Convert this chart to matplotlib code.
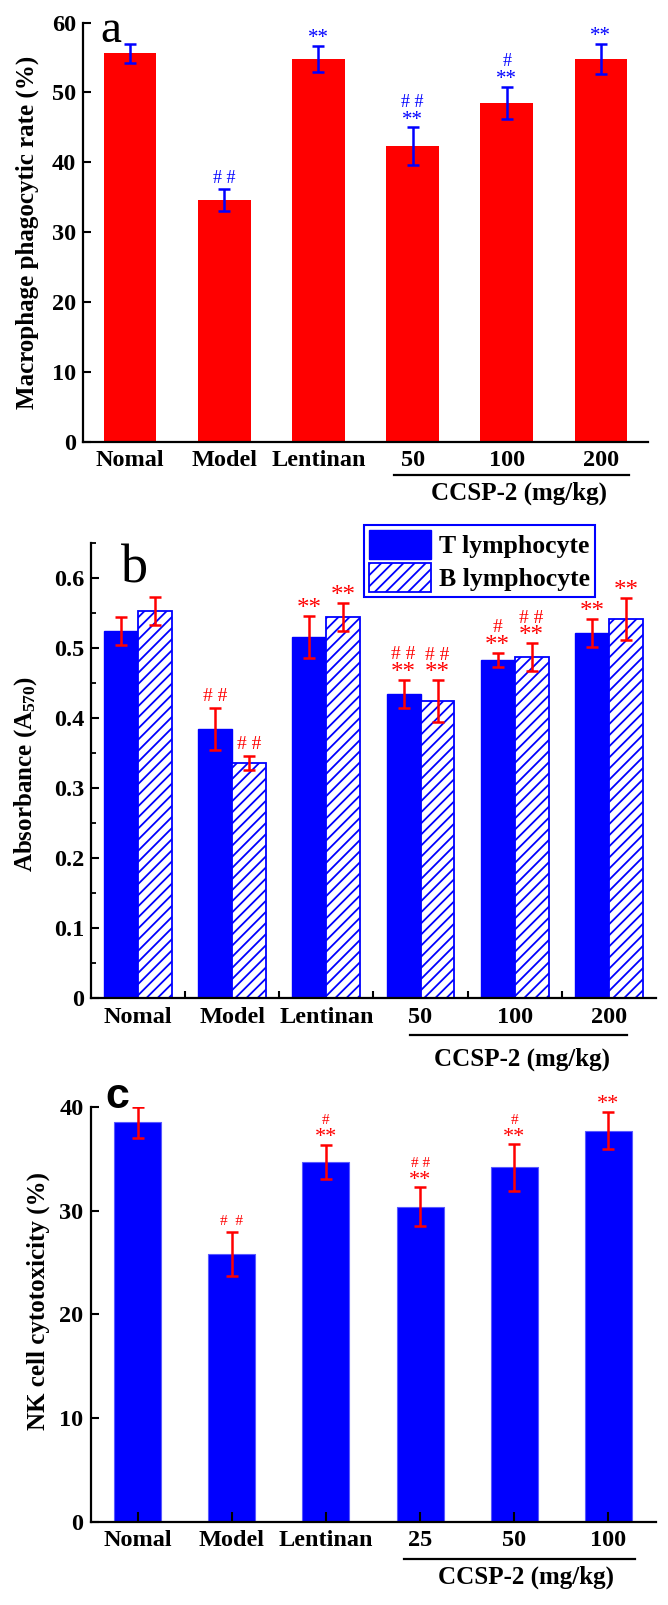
import numpy as np
import matplotlib.pyplot as plt
from matplotlib.patches import Patch
from matplotlib.ticker import FuncFormatter, MultipleLocator

plt.rcParams['font.family'] = ['Liberation Serif', 'DejaVu Serif']
plt.rcParams['font.weight'] = 'bold'
plt.rcParams['axes.labelweight'] = 'bold'
plt.rcParams['mathtext.fontset'] = 'custom'
plt.rcParams['mathtext.rm'] = 'Liberation Serif:bold'
plt.rcParams['mathtext.it'] = 'Liberation Serif:bold'
plt.rcParams['mathtext.bf'] = 'Liberation Serif:bold'
plt.rcParams['hatch.linewidth'] = 1.3

RED = '#ff0000'
BLUE = '#0000ff'

# panel a: macrophage phagocytic rate
labels_a = ['Nomal', 'Model', 'Lentinan', '50', '100', '200']
rate_a = [55.6, 34.6, 54.8, 42.3, 48.5, 54.8]
err_a = [1.4, 1.55, 1.9, 2.7, 2.35, 2.15]
stars_a = ['', '', '**', '**', '**', '**']
hashes_a = ['', '# #', '', '# #', '#', '']

# panel b: lymphocyte proliferation
labels_b = ['Nomal', 'Model', 'Lentinan', '50', '100', '200']
t_lym = [0.524, 0.385, 0.516, 0.435, 0.483, 0.522]
t_err = [0.02, 0.03, 0.03, 0.02, 0.01, 0.02]
b_lym = [0.553, 0.336, 0.544, 0.424, 0.487, 0.542]
b_err = [0.02, 0.01, 0.02, 0.03, 0.02, 0.03]
stars_t = ['', '', '**', '**', '**', '**']
hashes_t = ['', '# #', '', '# #', '#', '']
stars_b = ['', '', '**', '**', '**', '**']
hashes_b = ['', '# #', '', '# #', '# #', '']

# panel c: NK cell cytotoxicity
labels_c = ['Nomal', 'Model', 'Lentinan', '25', '50', '100']
nk_c = [38.55, 25.85, 34.75, 30.4, 34.2, 37.75]
err_c = [1.5, 2.1, 1.65, 1.9, 2.25, 1.8]
stars_c = ['', '', '**', '**', '**', '**']
hashes_c = ['', '#  #', '#', '# #', '#', '']


def style(ax, labels, ymax):
    for s in ['top', 'right']:
        ax.spines[s].set_visible(False)
    for s in ['left', 'bottom']:
        ax.spines[s].set_linewidth(1.6)
    ax.set_xlim(-0.5, 5.5)
    ax.set_ylim(0, ymax)
    ax.tick_params(axis='y', direction='in', length=6, width=1.5,
                   labelsize=17.5, pad=5)
    ax.set_xticks(range(len(labels)))
    ax.set_xticklabels(labels, fontsize=17.5)
    ax.tick_params(axis='x', length=0, pad=6)


def marks(ax, x, top, stars, hashes, color, fs_s, fs_h, off1=11, off2=25):
    rows = []
    if stars:
        rows.append((stars, fs_s, -4))
    if hashes:
        rows.append((hashes, fs_h, 0))
    for i, (t, fs, corr) in enumerate(rows):
        off = off1 if i == 0 else off2
        ax.annotate(t, (x, top), xytext=(0, off + corr), textcoords='offset pixels',
                    ha='center', va='center', fontsize=fs, color=color,
                    fontweight='normal')


def ccsp(ax, x0, x1, yline, ytext, xtext):
    tr = ax.get_xaxis_transform()
    ax.plot([x0, x1], [yline, yline], color='black', lw=1.6, transform=tr, clip_on=False)
    ax.text(xtext, ytext, 'CCSP-2 (mg/kg)', transform=tr, ha='center', va='center',
            fontsize=18)


fig = plt.figure(figsize=(6.68, 16.05), dpi=100)

# ---- a ----
ax1 = fig.add_axes([0.1243, 0.7248, 0.8458, 0.2611])
x = np.arange(len(labels_a))
ax1.bar(x, rate_a, width=0.56, color=RED)
ax1.errorbar(x, rate_a, yerr=err_a, fmt='none', ecolor=BLUE, elinewidth=1.8,
             capsize=4, capthick=1.8)
for i in range(len(x)):
    marks(ax1, x[i], rate_a[i] + err_a[i], stars_a[i], hashes_a[i], BLUE, 15, 13)
style(ax1, labels_a, 60)
ax1.set_yticks(range(0, 61, 10))
ax1.set_ylabel('Macrophage phagocytic rate (%)', fontsize=18)
ax1.yaxis.set_label_coords(-0.098, 0.5)
ax1.yaxis.label.set(va='center', rotation_mode='default')
ax1.text(0.05, 0.954, 'a', transform=ax1.transAxes, ha='center', va='baseline',
         fontsize=34, fontweight='normal')
ccsp(ax1, 2.8, 5.3, -0.079, -0.124, 4.13)

# ---- b ----
ax2 = fig.add_axes([0.1362, 0.378, 0.8458, 0.2837])
x = np.arange(len(labels_b))
w = 0.36
ax2.bar(x - w / 2, t_lym, width=w, color=BLUE, edgecolor=BLUE, lw=1, label='T lymphocyte')
ax2.bar(x + w / 2, b_lym, width=w, color='white', edgecolor=BLUE, hatch='///', lw=1.3,
        label='B lymphocyte')
ax2.errorbar(x - w / 2, t_lym, yerr=t_err, fmt='none', ecolor=RED, elinewidth=1.8,
             capsize=4.5, capthick=1.8)
ax2.errorbar(x + w / 2, b_lym, yerr=b_err, fmt='none', ecolor=RED, elinewidth=1.8,
             capsize=4.5, capthick=1.8)
for i in range(len(x)):
    marks(ax2, x[i] - w / 2, t_lym[i] + t_err[i], stars_t[i], hashes_t[i], RED, 18, 14)
    marks(ax2, x[i] + w / 2, b_lym[i] + b_err[i], stars_b[i], hashes_b[i], RED, 18, 14)
style(ax2, labels_b, 0.65)
ax2.yaxis.set_major_locator(MultipleLocator(0.1))
ax2.yaxis.set_minor_locator(MultipleLocator(0.05))
ax2.yaxis.set_major_formatter(FuncFormatter(lambda v, p: '0' if v == 0 else f'{v:.1f}'))
ax2.tick_params(axis='y', which='minor', direction='in', length=3.5, width=1.3)
ax2.set_xticks(np.arange(0.5, 5.0, 1.0), minor=True)
ax2.tick_params(axis='x', which='minor', direction='in', length=5, width=1.5)
ax2.set_ylabel('Absorbance (A$_{570}$)', fontsize=18)
ax2.yaxis.set_label_coords(-0.116, 0.493)
ax2.yaxis.label.set(va='center', rotation_mode='default')
ax2.text(0.077, 0.914, 'b', transform=ax2.transAxes, ha='center', va='baseline',
         fontsize=39, fontweight='normal')
handles = [Patch(facecolor=BLUE, edgecolor=BLUE, label='T lymphocyte'),
           Patch(facecolor='white', edgecolor=BLUE, hatch='///', lw=1.3, label='B lymphocyte')]
leg = ax2.legend(handles=handles, loc='upper left', bbox_to_anchor=(0.545, 0.673),
                 bbox_transform=fig.transFigure, fontsize=18.5, fancybox=False,
                 edgecolor=BLUE, framealpha=1, borderpad=0.2, labelspacing=0.15,
                 handlelength=2.4, handleheight=1.35, handletextpad=0.3,
                 borderaxespad=0)
leg.get_frame().set_linewidth(1.5)
ccsp(ax2, 2.89, 5.19, -0.081, -0.134, 4.08)

# ---- c ----
ax3 = fig.add_axes([0.1355, 0.0519, 0.8458, 0.2582])
x = np.arange(len(labels_c))
ax3.bar(x, nk_c, width=0.5, color=BLUE, edgecolor='#5a5aff', lw=0.8)
ax3.errorbar(x, nk_c, yerr=err_c, fmt='none', ecolor=RED, elinewidth=1.8,
             capsize=4, capthick=1.8)
for i in range(len(x)):
    marks(ax3, x[i], nk_c[i] + err_c[i], stars_c[i], hashes_c[i], RED, 16, 11, 11, 24)
style(ax3, labels_c, 40)
ax3.set_yticks(range(0, 41, 10))
ax3.tick_params(axis='x', direction='in', length=7, width=1.5)
ax3.set_ylabel('NK cell cytotoxicity (%)', fontsize=18)
ax3.yaxis.set_label_coords(-0.092, 0.533)
ax3.yaxis.label.set(va='center', rotation_mode='default')
ax3.text(0.048, 0.998, 'c', transform=ax3.transAxes, ha='center', va='baseline',
         fontsize=31, fontweight='bold', family='Liberation Sans')
ccsp(ax3, 2.83, 5.28, -0.091, -0.135, 4.12)

fig.savefig('out.png', dpi=100)
